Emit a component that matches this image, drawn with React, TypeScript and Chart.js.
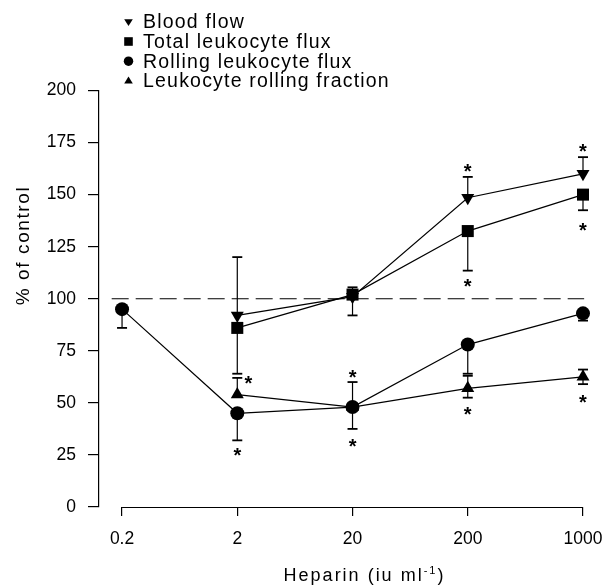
import React, { useEffect, useRef } from 'react';
import { Chart, registerables } from 'chart.js';

Chart.register(...registerables);

// ---------- data ----------
const X_LABELS = ['0.2', '2', '20', '200', '1000'];
const SERIES_NAMES = ['Blood flow', 'Total leukocyte flux', 'Rolling leukocyte flux', 'Leukocyte rolling fraction'];
const Y_TICKS = [0, 25, 50, 75, 100, 125, 150, 175, 200];

const bloodFlow = [null, 92, 101, 148.5, 160];
const totalFlux = [null, 86, 102, 132.5, 150];
const rollingFlux = [95, 45, 48, 78, 93];
const rollingFraction = [null, 54, 48, 57, 62.5];

// error bar tips (value), null = none drawn
const bloodFlowHi = [null, 120, null, 158.5, 168];
const bloodFlowLo = [null, null, null, null, null];
const totalFluxHi = [null, null, 105.5, null, null];
const totalFluxLo = [null, 64, 92, 113.5, 142.5];
const rollingFluxHi = [null, null, null, null, null];
const rollingFluxLo = [86, 32, 37.5, 64, 89.5];
const rollingFractionHi = [null, 62, 60, 63, 66];
const rollingFractionLo = [null, null, null, 52.5, 59];

// significance asterisks (x index, value, placed to the right of the bar?)
const STAR_X = [1, 1, 2, 2, 3, 3, 3, 4, 4, 4];
const STAR_Y = [61.5, 27, 64.5, 31.5, 163.5, 108.5, 47, 173, 135, 52.5];
const STAR_RIGHT = [true, false, false, false, false, false, false, false, false, false];

const CONTROL_LEVEL = 100;
const CONTROL_FROM = -0.09;
const CONTROL_TO = 4.01;

const X_TITLE = 'Heparin (iu ml';
const X_TITLE_SUP = '-1';
const Y_TITLE = '% of control';

const toXY = (arr: (number | null)[]) =>
  arr.map((v, i) => (v == null ? null : { x: i, y: v })).filter(Boolean) as { x: number; y: number }[];

const SERIES = [
  { vals: bloodFlow, hi: bloodFlowHi, lo: bloodFlowLo, style: 'triangle', rot: 180, r: 7.5 },
  { vals: totalFlux, hi: totalFluxHi, lo: totalFluxLo, style: 'rect', rot: 0, r: 8.5 },
  { vals: rollingFlux, hi: rollingFluxHi, lo: rollingFluxLo, style: 'circle', rot: 0, r: 7 },
  { vals: rollingFraction, hi: rollingFractionHi, lo: rollingFractionLo, style: 'triangle', rot: 0, r: 7.5 },
];

const FONT = '"Liberation Sans", Arial, Helvetica, sans-serif';

function drawMarker(ctx: CanvasRenderingContext2D, kind: number, x: number, y: number, s: number) {
  ctx.beginPath();
  if (kind === 0) {
    ctx.moveTo(x - s, y - s * 0.6);
    ctx.lineTo(x + s, y - s * 0.6);
    ctx.lineTo(x, y + s);
    ctx.closePath();
  } else if (kind === 1) {
    ctx.rect(x - s, y - s, 2 * s, 2 * s);
  } else if (kind === 2) {
    ctx.arc(x, y, s * 1.1, 0, Math.PI * 2);
  } else {
    ctx.moveTo(x - s, y + s * 0.6);
    ctx.lineTo(x + s, y + s * 0.6);
    ctx.lineTo(x, y - s);
    ctx.closePath();
  }
  ctx.fill();
}

const decorPlugin = {
  id: 'decor',
  beforeDatasetsDraw(chart: any) {
    const { ctx, scales } = chart;
    const x = scales.x, y = scales.y;
    ctx.save();
    ctx.strokeStyle = '#000';
    SERIES.forEach((s) => {
      s.vals.forEach((v, i) => {
        if (v == null) return;
        const px = x.getPixelForValue(i);
        const py0 = y.getPixelForValue(v);
        [s.hi[i], s.lo[i]].forEach((e) => {
          if (e == null) return;
          const py1 = y.getPixelForValue(e);
          ctx.lineWidth = 1.2;
          ctx.beginPath();
          ctx.moveTo(px, py0);
          ctx.lineTo(px, py1);
          ctx.stroke();
          ctx.lineWidth = 1.8;
          ctx.beginPath();
          ctx.moveTo(px - 5, py1);
          ctx.lineTo(px + 5, py1);
          ctx.stroke();
        });
      });
    });
    ctx.restore();
  },
  afterDraw(chart: any) {
    const { ctx, scales, chartArea } = chart;
    const x = scales.x, y = scales.y;
    ctx.save();
    ctx.fillStyle = '#000';
    ctx.strokeStyle = '#000';
    // x axis line
    ctx.lineWidth = 1.2;
    ctx.beginPath();
    ctx.moveTo(x.getPixelForValue(0), chartArea.bottom + 0.5);
    ctx.lineTo(x.getPixelForValue(4), chartArea.bottom + 0.5);
    ctx.stroke();

    // asterisks
    ctx.font = `bold 20px ${FONT}`;
    ctx.textAlign = 'center';
    ctx.textBaseline = 'alphabetic';
    STAR_X.forEach((xi, k) => {
      const px = x.getPixelForValue(xi) + (STAR_RIGHT[k] ? 11 : 0);
      const py = y.getPixelForValue(STAR_Y[k]);
      ctx.fillText('*', px, py + 11.5);
    });

    // legend
    (ctx as any).letterSpacing = '1.2px';
    ctx.font = `19.5px ${FONT}`;
    ctx.textAlign = 'left';
    const rowsY = [28.3, 48, 67.7, 87.4];
    SERIES_NAMES.forEach((name, k) => {
      drawMarker(ctx, k, 128.5, rowsY[k] - 6.5, 4.3);
      ctx.fillText(name, 143, rowsY[k]);
    });

    // x title with superscript
    (ctx as any).letterSpacing = '2px';
    ctx.font = `18px ${FONT}`;
    const w1 = ctx.measureText(X_TITLE).width;
    ctx.font = `11px ${FONT}`;
    const w2 = ctx.measureText(X_TITLE_SUP).width;
    ctx.font = `18px ${FONT}`;
    const w3 = ctx.measureText(')').width;
    const total = w1 + w2 + w3;
    let tx = 364.5 - total / 2;
    const base = 580.5;
    ctx.fillText(X_TITLE, tx, base);
    tx += w1;
    ctx.font = `11px ${FONT}`;
    ctx.fillText(X_TITLE_SUP, tx, base - 7);
    tx += w2;
    ctx.font = `18px ${FONT}`;
    ctx.fillText(')', tx, base);

    // y title
    (ctx as any).letterSpacing = '1.6px';
    ctx.font = `19px ${FONT}`;
    ctx.translate(28.5, 245.5);
    ctx.rotate(-Math.PI / 2);
    ctx.textAlign = 'center';
    ctx.fillText(Y_TITLE, 0, 0);
    ctx.restore();
  },
};

export default function App() {
  const ref = useRef<HTMLCanvasElement | null>(null);

  useEffect(() => {
    if (!ref.current) return;
    const datasets: any[] = SERIES.map((s, k) => ({
      label: SERIES_NAMES[k],
      data: toXY(s.vals),
      borderColor: '#000',
      backgroundColor: '#000',
      borderWidth: 1.2,
      pointStyle: s.style,
      rotation: s.rot,
      pointRadius: s.r,
      pointBorderWidth: 0,
      pointBackgroundColor: '#000',
      pointBorderColor: '#000',
      tension: 0,
      clip: false,
    }));
    datasets.push({
      label: 'control',
      data: [
        { x: CONTROL_FROM, y: CONTROL_LEVEL },
        { x: CONTROL_TO, y: CONTROL_LEVEL },
      ],
      borderColor: '#000',
      borderWidth: 1.2,
      borderDash: [17, 7],
      pointRadius: 0,
      clip: false,
    });

    const chart = new Chart(ref.current, {
      type: 'line',
      data: { datasets },
      options: {
        animation: false,
        responsive: false,
        devicePixelRatio: 1,
        layout: { padding: { top: 90.5, right: 22, left: 0, bottom: 0 } },
        plugins: { legend: { display: false }, tooltip: { enabled: false } },
        scales: {
          x: {
            type: 'linear',
            min: -0.2,
            max: 4,
            afterBuildTicks: (s: any) => {
              s.ticks = X_LABELS.map((_, i) => ({ value: i }));
            },
            afterFit: (s: any) => {
              s.height = 78;
              s.paddingLeft = 0;
              s.paddingRight = 0;
            },
            ticks: {
              callback: (v: any) => X_LABELS[Math.round(Number(v))],
              color: '#000',
              font: { family: FONT, size: 17.5 },
              padding: 13,
              maxRotation: 0,
              autoSkip: false,
            },
            grid: { drawOnChartArea: false, drawTicks: true, tickLength: 9, color: '#000', lineWidth: 1.2 },
            border: { display: false },
          },
          y: {
            type: 'linear',
            min: 0,
            max: 200,
            afterBuildTicks: (s: any) => {
              s.ticks = Y_TICKS.map((v) => ({ value: v }));
            },
            afterFit: (s: any) => {
              s.width = 99;
              s.paddingTop = 0;
              s.paddingBottom = 0;
            },
            ticks: {
              color: '#000',
              font: { family: FONT, size: 17.5 },
              padding: 12,
            },
            grid: { drawOnChartArea: false, drawTicks: true, tickLength: 11, color: '#000', lineWidth: 1.2 },
            border: { display: true, color: '#000', width: 1.2 },
          },
        },
      },
      plugins: [decorPlugin],
    } as any);
    return () => chart.destroy();
  }, []);

  return (
    <div style={{ position: 'fixed', left: 0, top: 0, width: 605, height: 585, background: '#fff' }}>
      <canvas ref={ref} width={605} height={585} style={{ display: 'block', width: 605, height: 585 }} />
    </div>
  );
}
